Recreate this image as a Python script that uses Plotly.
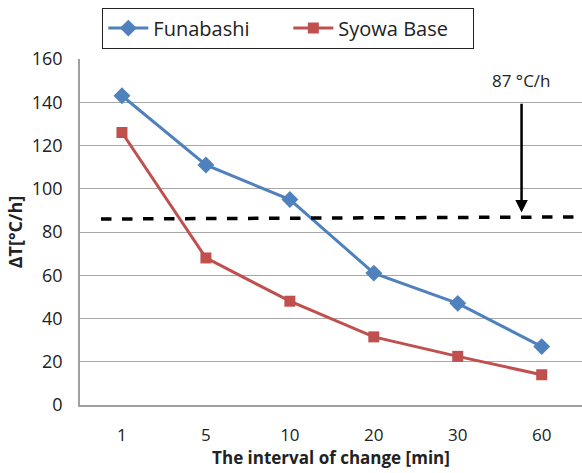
import plotly.graph_objects as go

categories = ["1", "5", "10", "20", "30", "60"]
funabashi = [143, 111, 95, 61, 47, 27]
syowa = [126, 68, 48, 31.5, 22.5, 14]
thresh_x = [-0.25, 5.6]
thresh_y = [86, 87]
arrow_x = 4.76
arrow_from, arrow_to = 140, 89
y_ticks = [0, 20, 40, 60, 80, 100, 120, 140, 160]

font_family = "Open Sans, sans-serif"

fig = go.Figure()
fig.add_trace(go.Scatter(
    x=[0, 1, 2, 3, 4, 5], y=funabashi, name="Funabashi", mode="lines+markers",
    line=dict(color="#4F81BD", width=3),
    marker=dict(symbol="diamond", size=13, color="#4F81BD")))
fig.add_trace(go.Scatter(
    x=[0, 1, 2, 3, 4, 5], y=syowa, name="Syowa Base", mode="lines+markers",
    line=dict(color="#C0504D", width=3),
    marker=dict(symbol="square", size=11, color="#C0504D")))
fig.add_trace(go.Scatter(
    x=thresh_x, y=thresh_y, mode="lines", showlegend=False,
    line=dict(color="black", width=3.5, dash="dash"), hoverinfo="skip"))

fig.add_annotation(x=arrow_x, y=arrow_to, ax=arrow_x, ay=arrow_from,
                   xref="x", yref="y", axref="x", ayref="y",
                   showarrow=True, arrowhead=2, arrowsize=1, arrowwidth=2.5,
                   arrowcolor="black", text="")
fig.add_annotation(x=arrow_x, y=arrow_from, yshift=22, xref="x", yref="y",
                   text="87 °C/h", showarrow=False,
                   font=dict(size=17, color="#222", family=font_family))

fig.update_layout(
    width=582, height=473,
    margin=dict(l=80, r=0, t=59, b=68),
    plot_bgcolor="white", paper_bgcolor="white",
    font=dict(family=font_family, size=16, color="#222"),
    legend=dict(orientation="h", x=0.415, xanchor="center", y=1.03, yanchor="bottom",
                bordercolor="#222", borderwidth=1, font=dict(size=20),
                itemwidth=40, entrywidth=130, entrywidthmode="pixels"),
    xaxis=dict(tickmode="array", tickvals=[0, 1, 2, 3, 4, 5], ticktext=categories,
               range=[-0.5, 5.48], showgrid=False, showline=True, linecolor="#A0A0A0",
               linewidth=1.5, ticks="", zeroline=False, ticklabelstandoff=14,
               tickfont=dict(size=17),
               title=dict(text="<b>The interval of change [min]</b>", font=dict(size=17), standoff=4)),
    yaxis=dict(range=[0, 160], tickvals=y_ticks, showgrid=True, gridcolor="#A8A8A8",
               gridwidth=1, showline=True, linecolor="#A0A0A0", linewidth=1.5,
               zeroline=False, ticks="", tickfont=dict(size=18), ticklabelstandoff=12,
               title=dict(text="<b>ΔT[°C/h]</b>", font=dict(size=18), standoff=4)),
)
fig.write_html("out.html")
